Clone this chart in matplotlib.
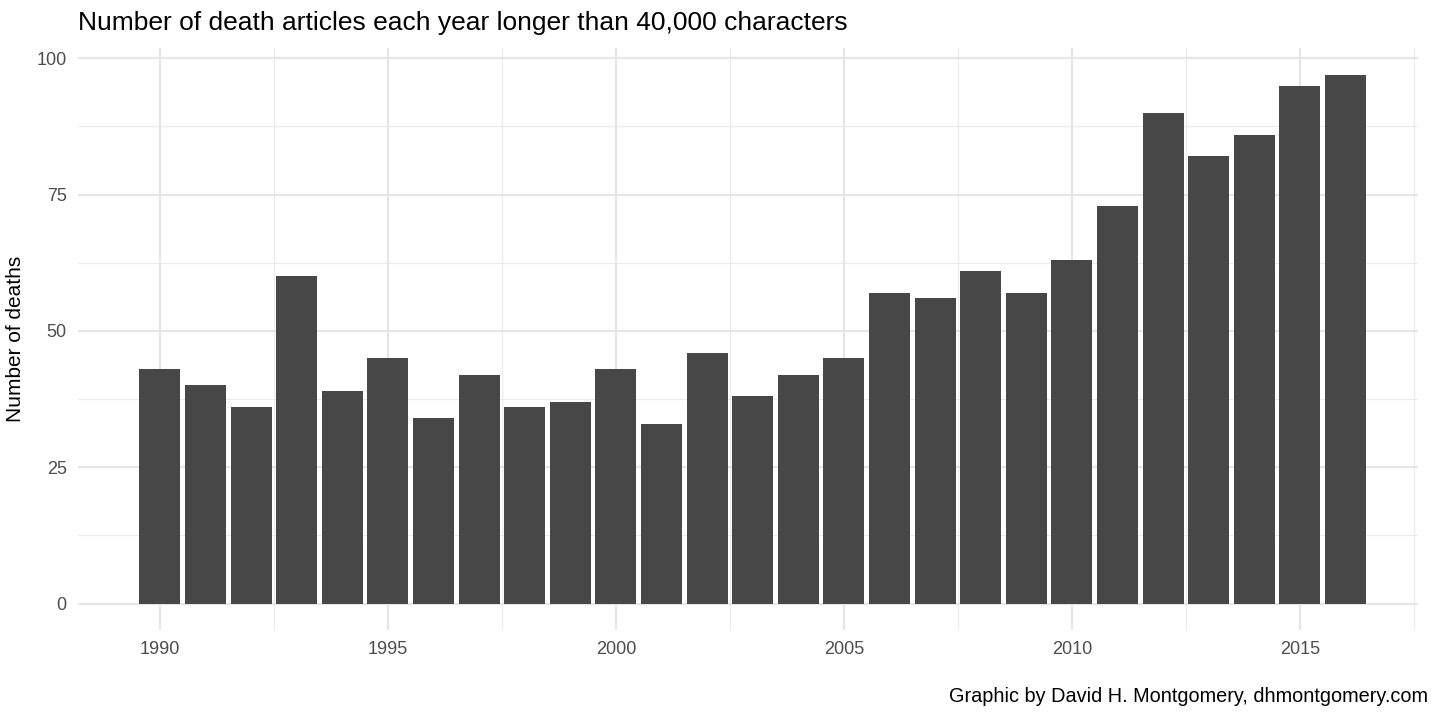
import numpy as np
import matplotlib.pyplot as plt

plt.rcParams['font.family'] = ['Liberation Sans', 'DejaVu Sans']

years = list(range(1990, 2017))
deaths = [43, 40, 36, 60, 39, 45, 34, 42, 36, 37,
          43, 33, 46, 38, 42, 45, 57, 56, 61, 57,
          63, 73, 90, 82, 86, 95, 97]

x_ticks = [1990, 1995, 2000, 2005, 2010, 2015]
y_ticks = [0, 25, 50, 75, 100]

fig = plt.figure(figsize=(14.4, 7.2), dpi=100)
ax = fig.add_axes([0.054, 0.125, 0.931, 0.808])

# grid like ggplot theme_minimal
for v in np.arange(12.5, 101, 25):
    ax.axhline(v, color='#EBEBEB', lw=0.8, zorder=0)
for v in np.arange(1992.5, 2018, 5):
    ax.axvline(v, color='#EBEBEB', lw=0.8, zorder=0)
for v in y_ticks:
    ax.axhline(v, color='#E6E6E6', lw=1.6, zorder=0)
for v in x_ticks:
    ax.axvline(v, color='#E6E6E6', lw=1.6, zorder=0)

ax.bar(years, deaths, width=0.9, color='#474747', zorder=2)

ax.set_xlim(1988.2, 2017.6)
ax.set_ylim(-4.85, 101.85)
ax.set_xticks(x_ticks)
ax.set_yticks(y_ticks)
ax.tick_params(length=0, labelsize=13, colors='#4D4D4D', pad=8)
for s in ax.spines.values():
    s.set_visible(False)

ax.set_ylabel('Number of deaths', fontsize=15, color='black', labelpad=8)
fig.text(0.054, 0.968, 'Number of death articles each year longer than 40,000 characters',
         fontsize=19, ha='left', va='center')
fig.text(0.992, 0.033, 'Graphic by David H. Montgomery, dhmontgomery.com',
         fontsize=14.3, ha='right', va='center')

fig.savefig('out.png', dpi=100)
